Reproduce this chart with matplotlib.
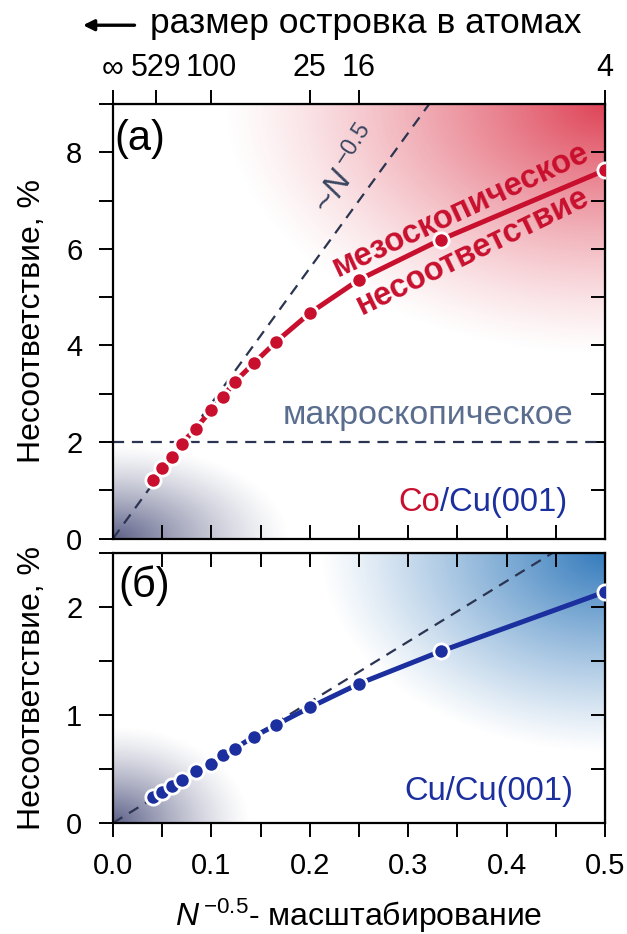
import numpy as np
import matplotlib
matplotlib.use("Agg")
import matplotlib.pyplot as plt
from matplotlib.ticker import MultipleLocator, FormatStrFormatter

plt.rcParams['font.family'] = ['Liberation Sans', 'DejaVu Sans']
plt.rcParams['mathtext.fontset'] = 'custom'
plt.rcParams['mathtext.rm'] = 'Liberation Sans'
plt.rcParams['mathtext.it'] = 'Liberation Sans:italic'

# ---- data ----
x_scale = [0.041, 0.050, 0.060, 0.070, 0.084, 0.100, 0.112, 0.124, 0.143,
           0.166, 0.200, 0.250, 0.333, 0.500]
co_cu = [1.21, 1.46, 1.70, 1.97, 2.28, 2.66, 2.94, 3.25, 3.63,
         4.08, 4.67, 5.36, 6.19, 7.63]
cu_cu = [0.24, 0.29, 0.34, 0.40, 0.48, 0.55, 0.63, 0.69, 0.80,
         0.91, 1.07, 1.29, 1.59, 2.14]
top_tick_pos = [0.0, 1 / 23, 0.1, 0.2, 0.25, 0.5]
top_tick_labels = ['∞', '529', '100', '25', '16', '4']
slope_a = 28.0
slope_b = 5.6
macro_level = 2.0

RED = '#c8102e'
BLUE = '#1c2f9e'
DASH = '#2b3450'
TL = 10      # tick length
TW = 1.4
FS_TICK = 21
FS_LAB = 23
FS_TXT = 23.5

fig = plt.figure(figsize=(6.27, 9.34), dpi=100)
ax_a = fig.add_axes([0.180, 0.4232, 0.785, 0.4655])
ax_b = fig.add_axes([0.180, 0.1188, 0.785, 0.2891])


def glow(ax, rgb, cx, cy, rx, ry, amax, power):
    n = 300
    u = np.linspace(0, 1, n)
    U, V = np.meshgrid(u, u)
    d = np.sqrt(((U - cx) / rx) ** 2 + ((V - cy) / ry) ** 2)
    a = np.clip(1 - d, 0, 1) ** power * amax
    img = np.zeros((n, n, 4))
    img[..., 0], img[..., 1], img[..., 2] = rgb
    img[..., 3] = a
    ax.imshow(img, extent=(0, 1, 0, 1), transform=ax.transAxes, origin='lower',
              aspect='auto', zorder=0, interpolation='bilinear')


# ---- panel (a) ----
glow(ax_a, (0.87, 0.24, 0.32), 1.0, 1.0, 0.78, 0.58, 0.97, 1.25)
glow(ax_a, (0.25, 0.27, 0.45), 0.0, 0.0, 0.36, 0.22, 0.85, 1.3)
xx = np.array([0.0, 0.5])
ax_a.plot(xx, slope_a * xx, ls=(0, (5, 3.5)), color=DASH, lw=1.6, zorder=2)
ax_a.axhline(macro_level, ls=(0, (5, 3.5)), color=DASH, lw=1.6, zorder=2)
ax_a.plot(x_scale, co_cu, '-o', color=RED, lw=3.6, ms=11, mfc=RED,
          mec='white', mew=2.0, zorder=3)
ax_a.set_xlim(0, 0.5)
ax_a.set_ylim(0, 9)
ax_a.yaxis.set_major_locator(MultipleLocator(2))
ax_a.yaxis.set_minor_locator(MultipleLocator(1))
ax_a.xaxis.set_major_locator(MultipleLocator(0.05))
ax_a.tick_params(axis='x', which='both', direction='in', length=TL, width=TW,
                 labelbottom=False, bottom=True, top=False)
ax_a.tick_params(axis='y', which='both', direction='out', length=TL, width=TW,
                 labelsize=FS_TICK, left=True, right=False, pad=12)
for s in ax_a.spines.values():
    s.set_linewidth(1.6)
ax_a.set_ylabel('Несоответствие, %', fontsize=FS_LAB, labelpad=14)

ry_a = ax_a.secondary_yaxis('right')
ry_a.yaxis.set_major_locator(MultipleLocator(1))
ry_a.tick_params(direction='in', length=TL, width=TW, labelright=False)

top = ax_a.secondary_xaxis('top')
top.set_xticks(top_tick_pos)
top.set_xticklabels(top_tick_labels)
top.tick_params(direction='out', length=TL, width=TW, labelsize=22, pad=5)

ax_a.text(0.002, 8.27, '(a)', fontsize=30, va='center', ha='left', zorder=5)
ax_a.text(0.354, 6.80, 'мезоскопическое', color=RED, fontsize=FS_TXT, fontweight='bold',
          rotation=25, ha='center', va='center', zorder=5)
ax_a.text(0.366, 5.94, 'несоответствие', color=RED, fontsize=FS_TXT, fontweight='bold',
          rotation=26, ha='center', va='center', zorder=5)
ax_a.text(0.238, 7.62, r'~$N^{\,\mathregular{-0.5}}$', color='#3a4560', fontsize=24,
          rotation=57, ha='center', va='center', zorder=5)
ax_a.text(0.320, 2.56, 'макроскопическое', color='#5a6d8f', fontsize=24.5,
          ha='center', va='center', zorder=5)
t1 = ax_a.text(0.290, 0.76, 'Co', color=RED, fontsize=FS_TXT, ha='left', va='center', zorder=5)
ax_a.annotate('/Cu(001)', xycoords=t1, xy=(1, 0.5), va='center', ha='left',
              color=BLUE, fontsize=FS_TXT, zorder=5)

# ---- panel (b) ----
glow(ax_b, (0.20, 0.48, 0.74), 1.0, 1.0, 0.58, 0.74, 1.0, 1.1)
glow(ax_b, (0.25, 0.27, 0.45), 0.0, 0.0, 0.28, 0.36, 0.85, 1.3)
ax_b.plot(xx, slope_b * xx, ls=(0, (5, 3.5)), color=DASH, lw=1.6, zorder=2)
ax_b.plot(x_scale, cu_cu, '-o', color=BLUE, lw=3.6, ms=11, mfc=BLUE,
          mec='white', mew=2.0, zorder=3)
ax_b.set_xlim(0, 0.5)
ax_b.set_ylim(0, 2.5)
ax_b.yaxis.set_major_locator(MultipleLocator(1))
ax_b.yaxis.set_minor_locator(MultipleLocator(0.5))
ax_b.xaxis.set_major_locator(MultipleLocator(0.1))
ax_b.xaxis.set_minor_locator(MultipleLocator(0.05))
ax_b.xaxis.set_major_formatter(FormatStrFormatter('%.1f'))
ax_b.tick_params(axis='x', which='both', direction='out', length=TL, width=TW,
                 labelsize=FS_TICK, top=False, pad=11)
ax_b.tick_params(axis='y', which='both', direction='out', length=TL, width=TW,
                 labelsize=FS_TICK, right=False, pad=12)
for s in ax_b.spines.values():
    s.set_linewidth(1.6)
ax_b.set_ylabel('Несоответствие, %', fontsize=FS_LAB, labelpad=14)
ax_b.set_xlabel(r'$N^{\,\mathregular{-0.5}}$- масштабирование', fontsize=23, labelpad=12)

ry_b = ax_b.secondary_yaxis('right')
ry_b.yaxis.set_major_locator(MultipleLocator(0.5))
ry_b.tick_params(direction='in', length=TL, width=TW, labelright=False)
tx_b = ax_b.secondary_xaxis('top')
tx_b.xaxis.set_major_locator(MultipleLocator(0.05))
tx_b.tick_params(direction='in', length=TL, width=TW, labeltop=False)

ax_b.text(0.006, 2.2, '(б)', fontsize=30, va='center', ha='left', zorder=5)
ax_b.text(0.4675, 0.29, 'Cu/Cu(001)', color=BLUE, fontsize=FS_TXT, ha='right',
          va='center', zorder=5)

# ---- header ----
fig.text(0.239, 0.975, 'размер островка в атомах', fontsize=25.5, ha='left', va='center')
fig.patches.append(matplotlib.patches.FancyArrowPatch(
    (0.219, 0.973), (0.128, 0.973), transform=fig.transFigure, arrowstyle='-|>',
    mutation_scale=16, lw=2.4, color='black'))

fig.savefig('out.png', dpi=100)
